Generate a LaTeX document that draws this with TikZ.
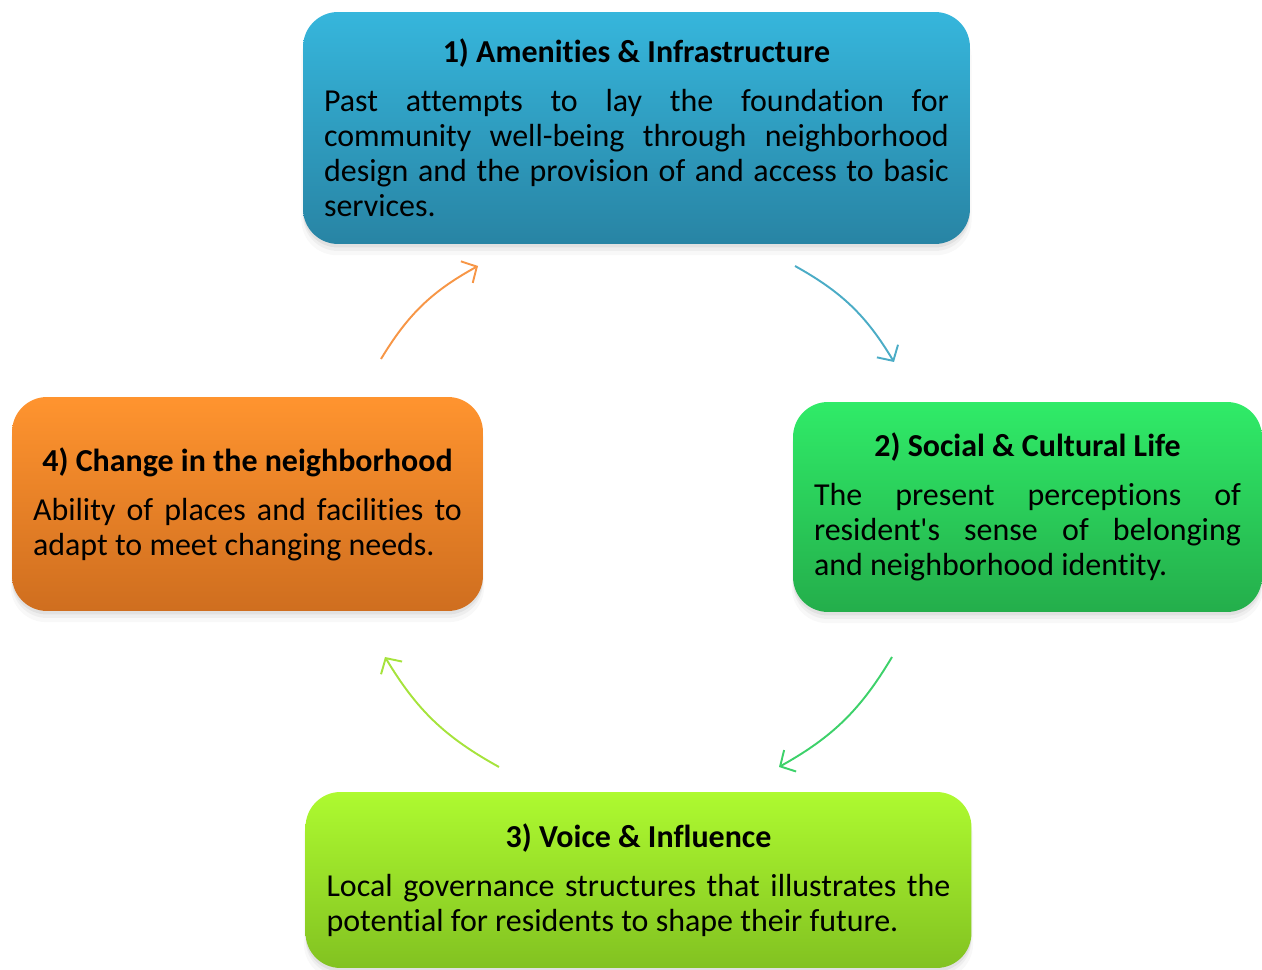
\documentclass[tikz,border=0pt]{standalone}
\usepackage{fontspec}
\setmainfont{Carlito}[Ligatures=CommonOff]
\usepackage{tikz}
\usetikzlibrary{arrows.meta, positioning, shadows}
\setlength{\parindent}{0pt}
\hyphenpenalty=10000
\exhyphenpenalty=10000

\definecolor{amtop}{HTML}{36B6DC}
\definecolor{ambot}{HTML}{2884A4}
\definecolor{sctop}{HTML}{30EB68}
\definecolor{scbot}{HTML}{24AE4B}
\definecolor{vitop}{HTML}{AEFA30}
\definecolor{vibot}{HTML}{82C221}
\definecolor{chtop}{HTML}{FF942F}
\definecolor{chbot}{HTML}{CF6E1F}
\definecolor{arrblue}{HTML}{4BACC6}
\definecolor{arrgreen}{HTML}{3DD16A}
\definecolor{arrlime}{HTML}{A6E33C}
\definecolor{arrorange}{HTML}{F79646}

\begin{document}
\begin{tikzpicture}[x=0.02cm, y=0.02cm,
    stagebox/.style={rounded corners=0.7cm, inner xsep=0.42cm, inner ysep=0pt, align=justify,
        font=\fontsize{18.2}{19.85}\selectfont,
        drop shadow={opacity=0.06, shadow xshift=0pt, shadow yshift=-6pt, shadow scale=1.005},
        drop shadow={opacity=0.08, shadow xshift=0pt, shadow yshift=-4pt},
        drop shadow={opacity=0.12, shadow xshift=0pt, shadow yshift=-2pt}},
    cyclearrow/.style={-{Straight Barb[length=6.5pt, width=14pt]}, line width=1.1pt, bend left=15}]
    \useasboundingbox (0,0) rectangle (1262,970);

    % the four stages
    \node[stagebox, top color=amtop, bottom color=ambot, minimum width=13.34cm, minimum height=4.64cm, text width=12.5cm] (amen) at (636.5,842)
        {{\centering\bfseries 1) Amenities \& Infrastructure\par}\vspace{8pt}Past attempts to lay the foundation for community well-being through neighborhood design and the provision of and access to basic services.};
    \node[stagebox, top color=sctop, bottom color=scbot, minimum width=9.34cm, minimum height=4.2cm, text width=8.54cm] (social) at (1027.5,463)
        {{\centering\bfseries 2) Social \& Cultural Life\par}\vspace{8pt}The present perceptions of resident\textquotesingle s sense of belonging and neighborhood identity.};
    \node[stagebox, top color=vitop, bottom color=vibot, minimum width=13.26cm, minimum height=3.52cm, text width=12.48cm] (voice) at (638.5,90)
        {{\centering\bfseries 3) Voice \& Influence\par}\vspace{8pt}Local governance structures that illustrates the potential for residents to shape their future.};
    \node[stagebox, top color=chtop, bottom color=chbot, minimum width=9.42cm, minimum height=4.28cm, text width=8.58cm] (change) at (247.5,466)
        {{\centering\bfseries 4) Change in the neighborhood\par}\vspace{8pt}Ability of places and facilities to adapt to meet changing needs.};

    % loose ends of the cycle arrows
    \coordinate (amenout) at (795,704);
    \coordinate (socialin) at (894,608);
    \coordinate (socialout) at (892,313);
    \coordinate (voicein) at (779,203);
    \coordinate (voiceout) at (499,203);
    \coordinate (changein) at (385,313);
    \coordinate (changeout) at (381,611);
    \coordinate (amenin) at (478,704);

    \draw[cyclearrow, arrblue] (amenout) to (socialin);
    \draw[cyclearrow, arrgreen] (socialout) to (voicein);
    \draw[cyclearrow, arrlime] (voiceout) to (changein);
    \draw[cyclearrow, arrorange] (changeout) to (amenin);
\end{tikzpicture}
\end{document}
